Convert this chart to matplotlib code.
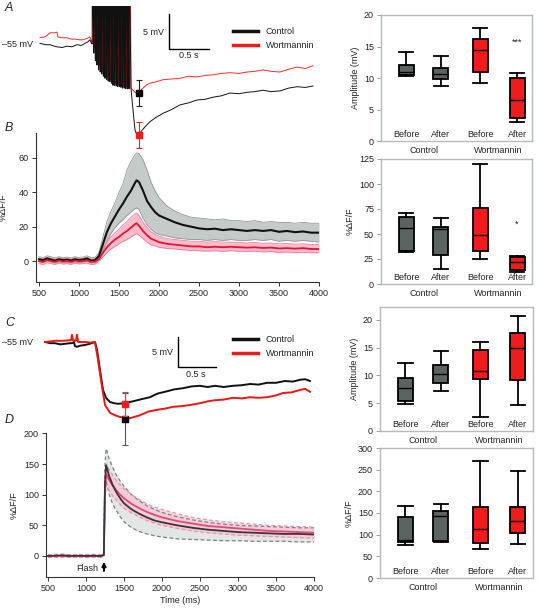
import matplotlib
matplotlib.use('Agg')
import matplotlib.pyplot as plt
from matplotlib.lines import Line2D

plt.rcParams['font.family'] = ['Liberation Sans', 'DejaVu Sans']
plt.rcParams['font.size'] = 6.5
plt.rcParams['axes.facecolor'] = 'none'

# ---------------- data ----------------
# Panel A traces (time ms, membrane potential mV)
a_ctrl_pre_t = [512, 580, 637, 690, 725, 790, 850, 910, 975, 1030, 1075, 1110, 1137, 1155]
a_ctrl_pre_v = [-54.9, -55.1, -55.1, -55.3, -55.4, -55.5, -55.3, -55.4, -55.1, -55.2, -54.9, -54.7, -54.4, -54.9]
a_wort_pre_t = [512, 560, 587, 637, 700, 725, 737, 790, 850, 900, 950, 1000, 1050, 1100, 1137, 1158]
a_wort_pre_v = [-54.1, -54.0, -53.9, -53.4, -53.4, -53.3, -54.0, -54.1, -54.1, -54.3, -54.3, -54.4, -54.4, -54.2, -54.0, -54.6]
a_spike_t = [1165, 1185, 1205, 1225, 1245, 1265, 1285, 1305, 1325, 1345, 1365, 1385,
             1405, 1425, 1445, 1465, 1485, 1505, 1525, 1545, 1565, 1585, 1605, 1625]
a_ctrl_trough = [-55.0, -56.3, -57.4, -58.0, -58.7, -59.0, -59.3, -59.6, -59.9, -60.1, -60.3, -60.4,
                 -60.6, -60.9, -60.9, -61.0, -61.1, -61.1, -61.2, -61.3, -61.3, -61.4, -61.4, -61.4]
a_wort_trough = [-54.7, -55.6, -56.6, -57.4, -58.1, -58.5, -58.9, -59.2, -59.5, -59.7, -59.9, -60.1,
                 -60.3, -60.5, -60.6, -60.7, -60.8, -60.9, -61.0, -61.0, -61.1, -61.1, -61.2, -61.2]
a_ctrl_post_t = [1650, 1675, 1700, 1725, 1762, 1820, 1887, 1960, 2050, 2150, 2262, 2370, 2475, 2575,
                 2675, 2780, 2887, 3000, 3100, 3200, 3300, 3400, 3512, 3620, 3725, 3830, 3925]
a_ctrl_post_v = [-61.4, -64.4, -67.3, -68.0, -67.7, -66.9, -66.1, -65.5, -64.9, -64.4, -63.7, -63.4,
                 -63.0, -62.9, -62.6, -62.4, -62.0, -62.1, -61.9, -61.8, -61.6, -61.8, -61.7, -61.3,
                 -61.1, -61.2, -61.0]
a_wort_post_t = [1650, 1700, 1737, 1800, 1850, 1887, 1960, 2050, 2150, 2262, 2370, 2475, 2575, 2675,
                 2780, 2887, 3000, 3100, 3200, 3300, 3400, 3512, 3620, 3725, 3830, 3925]
a_wort_post_v = [-61.3, -61.9, -62.0, -61.3, -60.8, -60.6, -60.4, -60.1, -60.0, -59.9, -59.6, -59.7,
                 -59.5, -59.4, -59.2, -59.1, -59.2, -59.0, -58.9, -58.7, -58.9, -59.0, -58.6, -58.3,
                 -58.5, -58.1]
a_mark_t = 1750
a_ctrl_mark, a_ctrl_err = -62.0, 1.86
a_wort_mark, a_wort_err = -68.0, 1.86

# Panel B (%dF/F vs time)
b_t = [500, 550, 600, 650, 700, 750, 800, 850, 900, 950, 1000, 1050, 1100, 1150, 1200, 1250, 1300,
       1350, 1400, 1450, 1500, 1550, 1600, 1650, 1700, 1720, 1750, 1800, 1850, 1900, 1950, 2000,
       2100, 2200, 2300, 2400, 2500, 2600, 2700, 2800, 2900, 3000, 3100, 3200, 3300, 3400, 3500,
       3600, 3700, 3800, 3900, 4000]
b_ctrl = [1, 0.5, 1.5, 0.8, 0.2, 1, 0.5, 0.8, 0.3, 1, 0.5, 0.8, 1.5, 0.3, 0.5, 3, 10, 17, 22, 26, 30,
          33.5, 37.5, 41, 45.5, 47, 46, 41, 35, 31.5, 28.5, 26.5, 24.5, 22.5, 21, 20, 19, 18.5, 18.8,
          18, 18.5, 18, 17.5, 18, 17.5, 18, 17, 17.5, 16.8, 17.2, 16.5, 16.5]
b_ctrl_hi = [2.5, 2, 3, 2.5, 1.8, 2.5, 2, 2.3, 1.8, 2.5, 2, 2.3, 3, 2, 2, 5, 14, 23, 29, 34, 40, 45,
             53, 58, 62, 63, 62.5, 59, 53, 46, 41, 37, 32, 29, 27, 25.5, 25, 24.5, 24, 24.5, 23.5,
             23.5, 23, 23.5, 22.5, 23, 22.5, 22.5, 22, 22.5, 22, 22]
b_ctrl_lo = [-0.5, -1, 0, -0.5, -1.2, -0.5, -1, -0.7, -1.2, -0.5, -1, -0.7, 0, -1.2, -1, 1, 6, 11.5,
             16, 19.5, 22, 24, 26.5, 28.5, 30.5, 31, 30, 25, 21, 18.5, 16.5, 15.5, 14.5, 13.5, 13,
             12.5, 12.5, 12, 12.5, 12, 12.5, 12, 12, 12.5, 12, 12.5, 11.5, 12, 11.5, 12, 11.5, 11]
b_wort = [0, -0.5, 0.5, 0, -0.5, 0.3, -0.3, 0, -0.5, 0.2, -0.2, 0, 0.3, -0.5, -0.3, 1, 5, 8, 10.5,
          12.5, 14, 16, 17.5, 19.5, 21.5, 22, 20.5, 17.5, 15, 13, 12, 11, 10, 9.5, 9, 8.5, 8.5, 8,
          8.3, 8, 8.3, 8, 7.8, 8, 7.6, 7.8, 7.3, 7.5, 7.2, 7.5, 7, 7]
b_wort_hi = [1.5, 1, 2, 1.5, 1, 1.8, 1.2, 1.5, 1, 1.7, 1.3, 1.5, 1.8, 1, 1.2, 2, 7.5, 11, 14, 16.5,
             18.5, 21, 23, 25.5, 27.5, 28, 26.5, 22.5, 19.5, 17, 15.5, 14.5, 13, 12.5, 12, 11.5,
             11.5, 11, 11.3, 11, 11, 10.8, 10.5, 10.8, 10.3, 10.5, 10, 10.2, 9.8, 10, 9.6, 9.6]
b_wort_lo = [-1.5, -2, -1, -1.5, -2, -1.2, -1.8, -1.5, -2, -1.3, -1.7, -1.5, -1.2, -2, -1.8, 0, 2.5,
             5, 7, 8.5, 10, 11.5, 12.5, 14, 15.5, 16, 15, 13, 11, 9.5, 8.8, 8, 7.3, 7, 6.5, 6.2, 6,
             5.8, 6, 5.7, 6, 5.7, 5.5, 5.7, 5.3, 5.5, 5, 5.2, 4.9, 5.1, 4.8, 4.8]

# Panel C traces
c_ctrl_t = [460, 530, 592, 660, 724, 790, 816, 842, 855, 882, 930, 987, 1050, 1118, 1145, 1184, 1224,
            1263, 1316, 1370, 1421, 1513, 1645, 1740, 1842, 1940, 2039, 2160, 2276, 2390, 2500, 2600,
            2697, 2810, 2934, 3050, 3158, 3270, 3382, 3500, 3618, 3720, 3816, 3882, 3947]
c_ctrl_v = [-55.0, -55.2, -55.2, -55.4, -55.3, -55.2, -55.2, -55.0, -55.7, -55.8, -55.6, -55.5, -55.3,
            -55.0, -56.3, -59.7, -63.0, -64.3, -65.0, -65.2, -65.3, -65.2, -64.8, -64.5, -64.2,
            -63.6, -63.3, -62.9, -62.7, -62.4, -62.3, -62.5, -62.3, -62.5, -62.3, -62.2, -62.0,
            -62.1, -61.8, -61.8, -61.5, -61.6, -61.3, -61.2, -61.5]
c_wort_t = [460, 530, 592, 697, 803, 816, 829, 868, 882, 895, 1000, 1060, 1118, 1158, 1211, 1250,
            1316, 1380, 1447, 1579, 1711, 1820, 1934, 2040, 2145, 2250, 2368, 2500, 2600, 2697,
            2810, 2934, 3050, 3158, 3270, 3382, 3500, 3592, 3700, 3816, 3882, 3947]
c_wort_v = [-55.0, -54.9, -54.8, -54.8, -54.7, -53.8, -54.7, -54.8, -53.8, -55.0, -55.0, -55.1,
            -55.0, -58.0, -62.5, -65.5, -66.8, -67.2, -67.5, -67.7, -67.2, -66.6, -66.3, -66.1,
            -65.8, -65.7, -65.5, -65.2, -64.9, -64.7, -64.6, -64.3, -64.4, -64.2, -64.3, -64.2,
            -63.9, -63.5, -63.4, -63.0, -62.8, -63.3]
c_mark_t = 1513
c_ctrl_mark, c_ctrl_err = -67.8, 4.3
c_wort_mark, c_wort_err = -65.3, 2.0

# Panel D (%dF/F vs time, flash)
d_t = [500, 600, 700, 800, 900, 1000, 1100, 1200, 1235, 1250, 1265, 1280, 1300, 1350, 1400, 1450,
       1500, 1600, 1700, 1800, 1900, 2000, 2200, 2400, 2600, 2800, 3000, 3200, 3400, 3600, 3800, 4000]
d_ctrl = [0, 0.5, 1, 0, 0.5, 0, 0.5, 0, 2, 120, 148, 142, 132, 116, 104, 94, 86, 76, 69, 63, 58, 55,
          50, 46, 43, 41, 39, 38, 37, 36, 36, 35]
d_ctrl_hi = [2, 2.5, 3, 2, 2.5, 2, 2.5, 2, 3, 150, 175, 170, 160, 145, 132, 122, 114, 100, 90, 82,
             76, 71, 64, 59, 55, 52, 50, 49, 48, 47, 46, 46]
d_ctrl_lo = [-2, -1.5, -1, -2, -1.5, -2, -1.5, -2, 0, 95, 122, 115, 102, 85, 74, 64, 56, 46, 40, 36,
             33, 31, 28, 27, 26, 25, 25, 24, 24, 24, 23, 23]
d_wort = [0, 0.5, 0, 0.5, 0, 0.5, 0, 0, 2, 110, 133, 130, 125, 115, 107, 100, 94, 85, 78, 72, 67,
          63, 57, 53, 49, 47, 45, 43, 41, 40, 39, 38]
d_wort_hi = [2, 2.5, 2, 2.5, 2, 2.5, 2, 2, 3, 125, 150, 147, 142, 132, 123, 116, 110, 100, 92, 85,
             80, 76, 69, 63, 59, 56, 54, 52, 50, 49, 48, 47]
d_wort_lo = [-2, -1.5, -2, -1.5, -2, -1.5, -2, -2, 0, 95, 116, 113, 108, 98, 91, 84, 78, 70, 64, 58,
             54, 50, 45, 41, 38, 36, 34, 33, 32, 31, 30, 29]
flash_t = 1237

# Box plots (whislo, q1, med, q3, whishi) for Control Before/After, Wortmannin Before/After
box_groups = ['Control', 'Control', 'Wortmannin', 'Wortmannin']
box_labels = ['Before', 'After', 'Before', 'After']
box_a = [(10.3, 10.5, 11.0, 12.1, 14.2), (8.8, 9.8, 10.6, 11.6, 13.5),
         (9.2, 10.9, 14.4, 16.2, 18.0), (3.0, 3.6, 6.5, 10.0, 10.8)]
box_b = [(32, 33, 56, 67, 71), (15, 29, 55, 57, 66),
         (25, 33, 49, 76, 120), (12.5, 14, 22, 27, 28)]
box_c = [(4.9, 5.4, 7.8, 9.6, 12.2), (7.2, 8.7, 10.3, 11.8, 14.4),
         (2.6, 9.3, 10.8, 14.5, 16.0), (4.7, 9.2, 15.0, 17.7, 20.6)]
box_d = [(77, 83, 87, 141, 166), (84, 86, 143, 155, 171),
         (66, 80, 113, 163, 270), (79, 105, 132, 165, 246)]
sig_a = ('***', 15.7)
sig_b = ('*', 60)

# ---------------- styling ----------------
W, H = 538, 609
fig = plt.figure(figsize=(W / 100, H / 100), dpi=100)
fig.patch.set_facecolor('white')
TXT = '#222222'
RED = '#f01c1c'
GRAY_BOX = '#5c6462'


def ax_px(l, t, r, b):
    return fig.add_axes([l / W, 1 - b / H, (r - l) / W, (b - t) / H])


def style_left(ax):
    for s in ['top', 'right']:
        ax.spines[s].set_visible(False)
    for s in ['left', 'bottom']:
        ax.spines[s].set_color('#333333')
        ax.spines[s].set_linewidth(0.8)
    ax.tick_params(length=3, width=0.7, color='#333333', labelsize=6.5, labelcolor=TXT, pad=2)


def build_spikes(times, troughs, pre_t, pre_v, post_t, post_v, shift=0.0):
    t = list(pre_t)
    v = list(pre_v)
    for ti, vi in zip(times, troughs):
        t += [ti + shift, ti + shift + 1.5, ti + shift + 13]
        v += [vi, -40.0, -50.6]
    t += list(post_t)
    v += list(post_v)
    return t, v


# ---------------- Panel B ----------------
axB = ax_px(36, 133, 319, 282)
axB.set_xlim(462.5, 4000)
axB.set_ylim(-12.23, 74.55)
style_left(axB)
axB.spines['bottom'].set_bounds(480, 4000)
axB.fill_between(b_t, b_ctrl_lo, b_ctrl_hi, color='#c5cbc9', lw=0)
axB.plot(b_t, b_ctrl_hi, color='#8f9795', lw=0.6)
axB.plot(b_t, b_ctrl_lo, color='#8f9795', lw=0.6)
axB.fill_between(b_t, b_wort_lo, b_wort_hi, color='#f8bccd', lw=0)
axB.plot(b_t, b_wort_hi, color='#f07a9a', lw=0.6)
axB.plot(b_t, b_wort_lo, color='#f07a9a', lw=0.6)
axB.plot(b_t, b_ctrl, color='#111111', lw=1.5)
axB.plot(b_t, b_wort, color='#e8132b', lw=1.3)
axB.set_xticks([500, 1000, 1500, 2000, 2500, 3000, 3500, 4000])
axB.set_yticks([0, 20, 40, 60])
axB.set_ylabel('%ΔF/F', fontsize=6.5, color=TXT, labelpad=8)

# ---------------- Panel A ----------------
axA = ax_px(39, 6, 319, 150)
axA.set_zorder(5)
axA.set_xlim(500, 4000)
axA.set_ylim(-70.14, -49.57)
axA.axis('off')
tw, vw = build_spikes(a_spike_t, a_wort_trough, a_wort_pre_t, a_wort_pre_v, a_wort_post_t, a_wort_post_v, shift=7)
tc, vc = build_spikes(a_spike_t, a_ctrl_trough, a_ctrl_pre_t, a_ctrl_pre_v, a_ctrl_post_t, a_ctrl_post_v)
axA.plot(tw, vw, color='#ff2a2a', lw=0.7)
axA.plot(tc, vc, color='#111111', lw=0.7)
axA.errorbar([a_mark_t], [a_ctrl_mark], yerr=[a_ctrl_err], fmt='s', color='black', ms=4.5,
             ecolor='#222222', elinewidth=0.8, capsize=2.5, capthick=0.8, zorder=5)
axA.errorbar([a_mark_t], [a_wort_mark], yerr=[a_wort_err], fmt='s', color=RED, ms=4.5,
             ecolor=RED, elinewidth=0.8, capsize=2.5, capthick=0.8, zorder=5)
axA.text(425, -55.1, '–55 mV', ha='right', va='center', fontsize=6.5, color=TXT)
# scale bar
axA.plot([2125, 2125, 2625], [-50.71, -55.71, -55.71], color='black', lw=1.0)
axA.text(2060, -53.3, '5 mV', ha='right', va='center', fontsize=6.5, color=TXT)
axA.text(2375, -56.6, '0.5 s', ha='center', va='center', fontsize=6.5, color=TXT)
legA = [Line2D([], [], color='#111111', lw=2.5), Line2D([], [], color=RED, lw=2.5)]
fig.legend(legA, ['Control', 'Wortmannin'], loc='upper left', bbox_to_anchor=(233 / W, 1 - 27 / H),
           frameon=False, fontsize=6.5, handlelength=2.8, handletextpad=0.8, labelspacing=0.55,
           borderpad=0, borderaxespad=0, labelcolor=TXT)

# ---------------- Panel D ----------------
axD = ax_px(46, 433, 314, 577)
axD.set_xlim(473.7, 4000)
axD.set_ylim(-34.26, 200.65)
style_left(axD)
axD.spines['bottom'].set_bounds(490, 4000)
axD.fill_between(d_t, d_ctrl_lo, d_ctrl_hi, color='#e2e6e4', lw=0)
axD.fill_between(d_t, d_wort_lo, d_wort_hi, color='#f6c6d5', alpha=0.75, lw=0)
for arr in (d_ctrl_hi, d_ctrl_lo):
    axD.plot(d_t, arr, color='#7b8381', lw=0.9, ls=(0, (3, 2)))
for arr in (d_wort_hi, d_wort_lo):
    axD.plot(d_t, arr, color='#ef8fb0', lw=0.9, ls=(0, (3, 2)))
axD.plot(d_t, d_wort, color='#e8457a', lw=1.3)
axD.plot(d_t, d_ctrl, color='#3a3535', lw=1.3)
axD.set_xticks([500, 1000, 1500, 2000, 2500, 3000, 3500, 4000])
axD.set_yticks([0, 50, 100, 150, 200])
axD.set_ylabel('%ΔF/F', fontsize=6.5, color=TXT, labelpad=4)
axD.set_xlabel('Time (ms)', fontsize=6.5, color=TXT, labelpad=2)
axD.annotate('', xy=(flash_t, -5), xytext=(flash_t, -29),
             arrowprops=dict(arrowstyle='-|>', color='black', lw=1.4, mutation_scale=6))
axD.text(flash_t - 75, -20, 'Flash', ha='right', va='center', fontsize=6.5, color=TXT)

# ---------------- Panel C ----------------
axC = ax_px(48, 325, 314, 455)
axC.set_zorder(5)
axC.set_xlim(500, 4000)
axC.set_ylim(-73.83, -52.17)
axC.axis('off')
axC.plot(c_ctrl_t, c_ctrl_v, color='#111111', lw=1.4, clip_on=False)
axC.plot(c_wort_t, c_wort_v, color='#ee1515', lw=1.4, clip_on=False)
axC.errorbar([c_mark_t], [c_ctrl_mark], yerr=[c_ctrl_err], fmt='s', color='black', ms=5,
             ecolor='#555555', elinewidth=0.8, capsize=2.5, capthick=0.8, zorder=5)
axC.errorbar([c_mark_t], [c_wort_mark], yerr=[c_wort_err], fmt='s', color=RED, ms=5,
             ecolor='#e04040', elinewidth=0.8, capsize=2.5, capthick=0.8, zorder=6)
axC.text(303, -55.1, '–55 mV', ha='right', va='center', fontsize=6.5, color=TXT)
axC.plot([2211, 2211, 2711], [-54.17, -59.17, -59.17], color='black', lw=1.0)
axC.text(2140, -56.7, '5 mV', ha='right', va='center', fontsize=6.5, color=TXT)
axC.text(2440, -60.5, '0.5 s', ha='center', va='center', fontsize=6.5, color=TXT)
legC = [Line2D([], [], color='#111111', lw=2.5), Line2D([], [], color=RED, lw=2.5)]
fig.legend(legC, ['Control', 'Wortmannin'], loc='upper left', bbox_to_anchor=(233 / W, 1 - 335 / H),
           frameon=False, fontsize=6.5, handlelength=2.8, handletextpad=0.8, labelspacing=0.55,
           borderpad=0, borderaxespad=0, labelcolor=TXT)

# ---------------- Box panels ----------------
positions = [1, 2, 3.12, 4.18]
box_w = 0.43
colors = [GRAY_BOX, GRAY_BOX, RED, RED]


def box_panel(rect, data, ylim, yticks, ylabel, sig=None):
    ax = ax_px(*rect)
    stats = []
    for d in data:
        stats.append(dict(whislo=d[0], q1=d[1], med=d[2], q3=d[3], whishi=d[4], fliers=[]))
    bp = ax.bxp(stats, positions=positions, widths=box_w, patch_artist=True, showfliers=False,
                capwidths=box_w * 0.95,
                boxprops=dict(linewidth=1.3, edgecolor='black'),
                whiskerprops=dict(linewidth=1.3, color='black'),
                capprops=dict(linewidth=1.3, color='black'),
                medianprops=dict(linewidth=1.0, color='black'))
    for patch, c in zip(bp['boxes'], colors):
        patch.set_facecolor(c)
    ax.set_xlim(0.28, 4.61)
    ax.set_ylim(*ylim)
    ax.set_yticks(yticks)
    ax.set_xticks([])
    for s in ax.spines.values():
        s.set_color('#b3bbba')
        s.set_linewidth(1.0)
    ax.tick_params(axis='y', length=3, width=0.7, color='#9aa2a1', labelsize=6.5, labelcolor=TXT, pad=2)
    ax.set_ylabel(ylabel, fontsize=6.5, color=TXT, labelpad=3)
    for p, lab in zip(positions, box_labels):
        ax.annotate(lab, xy=(p, 0), xycoords=('data', 'axes fraction'), xytext=(0, 4.8),
                    textcoords='offset points', ha='center', va='center', fontsize=6.5, color=TXT)
    for x, g in [((positions[0] + positions[1]) / 2, box_groups[0]),
                 ((positions[2] + positions[3]) / 2, box_groups[2])]:
        ax.annotate(g, xy=(x, 0), xycoords=('data', 'axes fraction'), xytext=(0, -6.5),
                    textcoords='offset points', ha='center', va='center', fontsize=6.5, color=TXT,
                    annotation_clip=False)
    if sig is not None:
        ax.text(positions[3], sig[1], sig[0], ha='center', va='center', fontsize=6.5, color=TXT)
    return ax


box_panel((381, 15, 532, 141), box_a, (0, 20), [0, 5, 10, 15, 20], 'Amplitude (mV)', sig_a)
box_panel((381, 159, 532, 284), box_b, (0, 125), [0, 25, 50, 75, 100, 125], '%ΔF/F', sig_b)
box_panel((380, 307, 533, 431), box_c, (0, 22.3), [0, 5, 10, 15, 20], 'Amplitude (mV)')
box_panel((380, 448, 533, 578), box_d, (0, 300), [0, 50, 100, 150, 200, 250, 300], '%ΔF/F')

# panel letters
for lab, y in [('A', 8), ('B', 128), ('C', 323), ('D', 420)]:
    fig.text(5 / W, 1 - y / H, lab, fontsize=9, style='italic', ha='left', va='center', color=TXT)

fig.savefig('out.png', dpi=100, facecolor='white')
